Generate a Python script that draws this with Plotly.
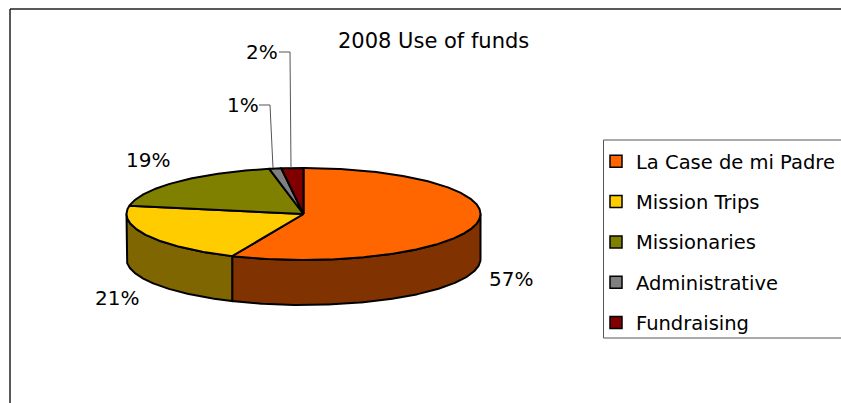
import numpy as np
import plotly.graph_objects as go

categories = ["La Case de mi Padre", "Mission Trips", "Missionaries", "Administrative", "Fundraising"]
shares = [56.6, 21.3, 19.0, 1.1, 2.0]
top_colors = ["#FF6600", "#FFCC00", "#808000", "#808080", "#800000"]
side_colors = ["#803300", "#806600", "#404000", "#404040", "#400000"]
title_text = "2008 Use of funds"
FONT = "DejaVu Sans"

CX, CY, RX, RY, DEPTH = 303.5, 214, 177, 46, 45

def rim(a0, a1):
    t = np.radians(np.linspace(a0, a1, max(2, int(abs(a1 - a0) * 2))))
    return CX + RX * np.sin(t), CY - RY * np.cos(t)

fig = go.Figure()
edges = np.concatenate([[0], np.cumsum(shares)]) * 360 / sum(shares)

# side wall: visible only between 90 and 270 degrees clockwise from the top
for i, name in enumerate(categories):
    a0, a1 = max(edges[i], 90), min(edges[i + 1], 270)
    if a1 <= a0:
        continue
    x, y = rim(a0, a1)
    fig.add_trace(go.Scatter(
        x=np.concatenate([x, x[::-1], x[:1]]),
        y=np.concatenate([y, y[::-1] + DEPTH, y[:1]]),
        mode="lines", fill="toself", fillcolor=side_colors[i],
        line=dict(color="black", width=2), showlegend=False, hoverinfo="skip"))

# top face
for i, name in enumerate(categories):
    x, y = rim(edges[i], edges[i + 1])
    fig.add_trace(go.Scatter(
        x=np.concatenate([[CX], x, [CX]]),
        y=np.concatenate([[CY], y, [CY]]),
        mode="lines", fill="toself", fillcolor=top_colors[i],
        line=dict(color="black", width=2), showlegend=False,
        name=name, hoverinfo="name"))

# legend entries
for i, name in enumerate(categories):
    fig.add_trace(go.Scatter(
        x=[None], y=[None], mode="markers", name=name, legendgroup=name,
        marker=dict(symbol="square", size=12, color=top_colors[i],
                    line=dict(color="black", width=1.5))))

# leader lines
for lx, ly in [([279, 290, 291], [52, 52, 168]), ([259, 270, 273], [105, 105, 168])]:
    fig.add_trace(go.Scatter(x=lx, y=ly, mode="lines", line=dict(color="#555555", width=1),
                             showlegend=False, hoverinfo="skip"))

label_pos = [(511, 279), (117, 298), (148, 160), (243, 105), (262, 52)]
annotations = [dict(x=p[0], y=p[1], text=f"{round(s)}%", showarrow=False, xref="x", yref="y",
                    font=dict(family=FONT, size=20, color="black"))
               for s, p in zip(shares, label_pos)]
annotations.append(dict(x=433, y=41, text=title_text, showarrow=False, xref="x", yref="y",
                        font=dict(family=FONT, size=21, color="black")))

shapes = [
    dict(type="line", x0=10, x1=10, y0=9, y1=403, xref="x", yref="y", line=dict(color="#222222", width=1.5)),
    dict(type="line", x0=10, x1=841, y0=9, y1=9, xref="x", yref="y", line=dict(color="#222222", width=1.5)),
    dict(type="rect", x0=603.5, x1=860, y0=140, y1=338, xref="x", yref="y",
         line=dict(color="#555555", width=1), layer="below"),
]

fig.update_layout(
    width=841, height=403, margin=dict(l=0, r=0, t=0, b=0),
    paper_bgcolor="white", plot_bgcolor="white",
    xaxis=dict(range=[0, 841], visible=False, fixedrange=True),
    yaxis=dict(range=[403, 0], visible=False, fixedrange=True),
    annotations=annotations, shapes=shapes,
    legend=dict(x=596 / 841, xanchor="left", y=1 - 142 / 403, yanchor="top",
                bgcolor="rgba(0,0,0,0)", borderwidth=0, tracegroupgap=12,
                font=dict(family=FONT, size=19.5, color="black")),
)
fig.write_html("out.html", config=dict(displayModeBar=False),
               post_script="document.body.style.margin='0';document.body.style.overflow='hidden';")
